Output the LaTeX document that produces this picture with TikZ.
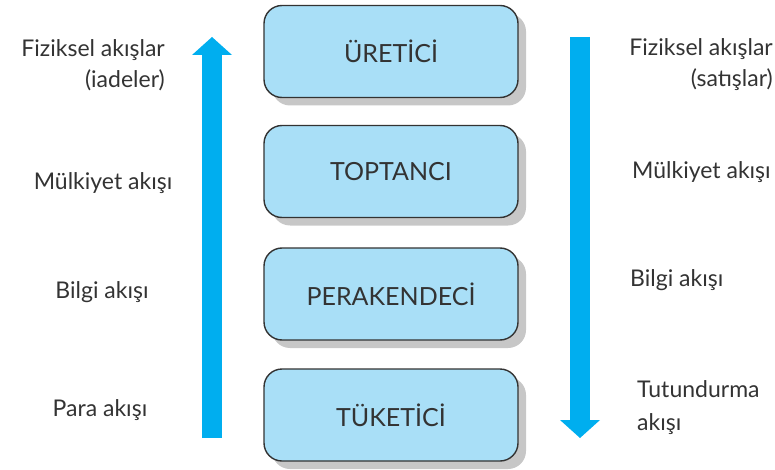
\documentclass[tikz,border=0pt]{standalone}
\usepackage{fontspec}
\setmainfont{Lato}
\usetikzlibrary{arrows.meta,shadows}
\definecolor{flowblue}{HTML}{00AEEF}
\definecolor{boxblue}{HTML}{A9DFF7}
\definecolor{textgray}{HTML}{333333}
\tikzset{
  member/.style={draw=black!80, line width=1.4pt, fill=boxblue, rounded corners=18pt,
    minimum width=254pt, minimum height=92pt, text=textgray,
    font=\fontsize{25}{30}\selectfont,
    drop shadow={shadow xshift=8pt, shadow yshift=-8pt, fill=black!22, opacity=1}},
  flowlabel/.style={text=textgray, font=\fontsize{23}{31}\selectfont, inner sep=0pt},
  flow/.style={draw=flowblue, line width=20pt,
    -{Triangle[width=40pt,length=18pt,line width=0pt]}}
}
\begin{document}
\begin{tikzpicture}[x=1pt,y=-1pt]
      \useasboundingbox (0,0) rectangle (775,470);
      % channel members
      \draw
        (391,51.5) node[member] (uret){ÜRETİCİ}
        (391,171.5) node[member] (topt){TOPTANCI}
        (391,294) node[member] (pera){PERAKENDECİ}
        (391,415) node[member] (tuket){TÜKETİCİ};
      % flows
      \coordinate (upbot) at (212,438);
      \coordinate (uptop) at (212,37);
      \coordinate (downtop) at (580,37);
      \coordinate (downbot) at (580,438);
      \begin{scope}[flow]
        \draw (upbot) to (uptop);
        \draw (downtop) to (downbot);
      \end{scope}
      % labels
      \node[flowlabel, align=right, anchor=east] (fizL) at (165,65) {Fiziksel akışlar\\(iadeler)};
      \node[flowlabel] (mulL) at (103,183) {Mülkiyet akışı};
      \node[flowlabel] (bilL) at (102,292) {Bilgi akışı};
      \node[flowlabel] (parL) at (100,410) {Para akışı};
      \node[flowlabel, align=right, anchor=east] (fizR) at (773,65) {Fiziksel akışlar\\(satışlar)};
      \node[flowlabel, anchor=west] (mulR) at (632,172) {Mülkiyet akışı};
      \node[flowlabel, anchor=west] (bilR) at (630,280) {Bilgi akışı};
      \node[flowlabel, align=left, anchor=west] (tutR) at (637,408) {Tutundurma\\[2pt]akışı};
    \end{tikzpicture}
\end{document}
